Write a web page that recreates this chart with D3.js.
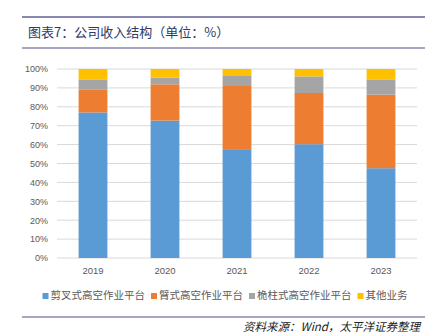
<!DOCTYPE html>
<html>
<head>
<meta charset="utf-8">
<script src="https://cdn.jsdelivr.net/npm/d3@7"></script>
<style>
  body { margin: 0; background: #fff; }
  svg { display: block; font-family: "Noto Sans CJK SC", "Liberation Sans", sans-serif; }
</style>
</head>
<body>
<div id="chart"></div>
<script>
// Data (shares of revenue, %)
const years = ["2019", "2020", "2021", "2022", "2023"];
const seriesNames = ["剪叉式高空作业平台", "臂式高空作业平台", "桅柱式高空作业平台", "其他业务"];
const scissor = [77.0, 72.7, 57.6, 60.2, 47.5];
const boom = [12.0, 19.2, 33.4, 27.1, 38.9];
const mast = [5.5, 3.5, 5.3, 8.8, 8.1];
const other = [5.5, 4.6, 3.7, 3.9, 5.5];
const yTicks = [0, 10, 20, 30, 40, 50, 60, 70, 80, 90, 100];
const colors = ["#5B9BD5", "#ED7D31", "#A5A5A5", "#FFC000"];

const W = 433, H = 335;
const svg = d3.select("#chart").append("svg")
    .attr("width", W)
    .attr("height", H);

// Header rules and title
const ruleColor = "#8888B0";
svg.append("line").attr("x1", 22).attr("x2", 425).attr("y1", 17).attr("y2", 17)
    .attr("stroke", ruleColor).attr("stroke-width", 2);
svg.append("line").attr("x1", 22).attr("x2", 425).attr("y1", 48).attr("y2", 48)
    .attr("stroke", ruleColor).attr("stroke-width", 1.5);
svg.append("text")
    .attr("x", 28).attr("y", 37)
    .attr("fill", "#2B3A67")
    .attr("font-size", 13)
    .text("图表7：公司收入结构（单位：%）");

// Plot area
const plot = {left: 57, right: 417, top: 69, bottom: 258};

const x = d3.scaleBand()
    .domain(years)
    .range([plot.left, plot.right])
    .paddingInner(0.6)
    .paddingOuter(0.3);

const y = d3.scaleLinear()
    .domain([0, 100])
    .range([plot.bottom, plot.top]);

// Grid lines
svg.append("g")
    .selectAll("line")
    .data(yTicks)
    .join("line")
    .attr("x1", plot.left).attr("x2", plot.right)
    .attr("y1", d => y(d)).attr("y2", d => y(d))
    .attr("stroke", "#D9D9D9")
    .attr("stroke-width", 1);

// Y axis labels
const yAxis = d3.axisLeft(y)
    .tickValues(yTicks)
    .tickFormat(d => d + "%")
    .tickSize(0)
    .tickPadding(9);

svg.append("g")
    .attr("transform", "translate(" + plot.left + ",0)")
    .call(yAxis)
    .call(g => g.select(".domain").remove())
    .selectAll("text")
    .attr("fill", "#595959")
    .attr("font-size", 9)
    .attr("font-family", "Liberation Sans, sans-serif");

// X axis labels
const xAxis = d3.axisBottom(x).tickSize(0).tickPadding(9);
svg.append("g")
    .attr("transform", "translate(0," + plot.bottom + ")")
    .call(xAxis)
    .call(g => g.select(".domain").remove())
    .selectAll("text")
    .attr("fill", "#595959")
    .attr("font-size", 9.5)
    .attr("font-family", "Liberation Sans, sans-serif");

// Stack the series
const table = years.map((yr, i) => ({
    year: yr,
    s0: scissor[i], s1: boom[i], s2: mast[i], s3: other[i]
}));
const stack = d3.stack().keys(["s0", "s1", "s2", "s3"]);
const stacked = stack(table);

svg.append("g")
    .selectAll("g")
    .data(stacked)
    .join("g")
    .attr("fill", (d, i) => colors[i])
    .selectAll("rect")
    .data(d => d)
    .join("rect")
    .attr("x", d => x(d.data.year))
    .attr("width", x.bandwidth())
    .attr("y", d => y(d[1]))
    .attr("height", d => y(d[0]) - y(d[1]));

// Legend
const legend = svg.append("g");
let cursor = 0;
seriesNames.forEach((name, i) => {
    const item = legend.append("g").attr("transform", "translate(" + cursor + ",0)");
    item.append("rect")
        .attr("x", 0).attr("y", -6)
        .attr("width", 6).attr("height", 6)
        .attr("fill", colors[i]);
    const t = item.append("text")
        .attr("x", 8).attr("y", 0)
        .attr("fill", "#595959")
        .attr("font-size", 10.5)
        .text(name);
    cursor += 8 + t.node().getComputedTextLength() + 6;
});
const legendWidth = cursor - 6;
legend.attr("transform", "translate(" + (225 - legendWidth / 2) + ",299)");

// Footer rule and source
svg.append("line").attr("x1", 22).attr("x2", 425).attr("y1", 317).attr("y2", 317)
    .attr("stroke", ruleColor).attr("stroke-width", 1.5);
svg.append("text")
    .attr("x", 420).attr("y", 331)
    .attr("text-anchor", "end")
    .attr("fill", "#222")
    .attr("font-size", 11.5)
    .attr("font-style", "italic")
    .text("资料来源：Wind，太平洋证券整理");
</script>
</body>
</html>
